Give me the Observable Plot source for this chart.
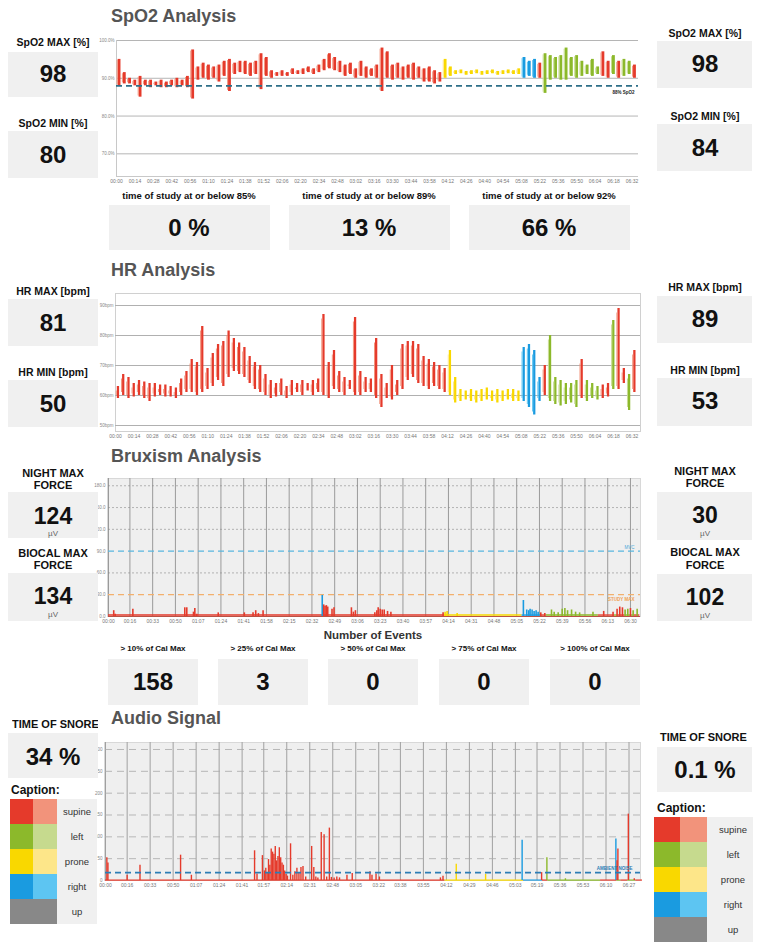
<!DOCTYPE html>
<html><head><meta charset="utf-8">
<script src="https://cdn.jsdelivr.net/npm/d3@7"></script>
<script src="https://cdn.jsdelivr.net/npm/@observablehq/plot@0.6"></script>
<style>
html,body{margin:0;padding:0;background:#fff;overflow:hidden}
#page{position:relative;width:762px;height:942px;overflow:hidden;font-family:"Liberation Sans",Arial,sans-serif}
.t{position:absolute;white-space:nowrap;transform:translate(-50%,-50%);font-weight:bold;color:#111;line-height:1}
.tl{position:absolute;white-space:nowrap;transform:translate(0,-50%);font-weight:bold;line-height:1}
.box{position:absolute;background:#f0f0f0}
.chart{position:absolute}
</style></head><body><div id="page"></div>
<script>
// ---------- positions / captions ----------
const posCodes = ["S","L","P","R","U"];
const posNames = ["supine","left","prone","right","up"];
const posDark  = ["#e53a2b","#8cb92b","#f9d800","#1a9be0","#888888"];
const posLight = ["#f2937b","#c6da8e","#fde689","#5dc5f2","#888888"];

// body-position timeline (minutes)
const timelineStart = [0, 251, 309, 323, 327, 366, 378, 381, 386, 392];
const timelineEnd   = [251, 309, 323, 327, 366, 378, 381, 386, 392, 397];
const timelinePos   = ["S","P","R","S","L","S","L","S","L","S"];

// ---------- SpO2 ----------
const spo2Step = 4;
const spo2Lo = [88.0,88.5,88.5,88.0,85.0,88.0,87.5,88.0,87.5,87.5,88.0,87.5,88.0,87.5,
  84.5,89.5,90.0,89.5,90.0,89.0,90.5,86.5,91.0,91.5,91.0,90.5,91.0,87.0,90.5,
  90.0,90.5,90.5,90.5,91.0,91.0,91.0,91.5,91.0,91.5,
  92.0,92.5,92.0,91.5,90.5,91.0,90.0,90.5,90.0,90.5,90.0,
  86.5,90.0,89.5,90.0,89.5,90.0,89.5,90.0,89.0,89.0,88.5,89.0,
  90.0,90.5,91.0,91.2,90.8,91.0,91.2,90.8,91.0,91.2,90.8,91.0,91.2,91.0,91.0,
  90.0,90.5,90.0,90.0,
  86.0,89.5,90.0,89.5,89.5,90.5,90.0,90.5,91.0,90.5,91.0,
  90.5,90.0,91.0,90.0,90.5,91.0,90.0];
const spo2Hi = [95.0,91.5,90.0,89.5,90.5,89.5,89.5,89.0,89.5,89.0,89.5,90.0,89.5,90.5,
  97.5,93.0,94.0,93.5,93.0,93.5,94.5,95.0,94.0,94.5,94.5,94.0,94.5,96.5,95.5,
  92.0,91.5,92.0,91.5,92.5,92.0,92.5,93.0,92.5,93.5,
  95.0,96.5,95.5,94.5,93.5,94.0,92.5,94.5,93.0,92.5,93.5,
  98.0,97.0,93.5,94.0,93.0,93.5,94.0,93.0,92.5,93.0,92.0,91.5,
  95.0,93.0,92.0,92.2,91.8,92.0,92.2,91.8,92.0,92.2,91.8,92.0,92.2,92.0,92.5,
  95.5,94.5,95.0,94.0,
  96.5,96.0,95.5,96.0,98.0,95.5,96.0,94.5,93.5,95.0,93.0,
  97.0,94.5,96.0,94.5,95.0,94.5,93.5];
const spo2Pos = "SSSSSSSSSSSSSSSSSSSSSSSSSSSSSSSSSSSSSSSSSSSSSSSSSSSSSSSSSSSSSS" +
  "PPPPPPPPPPPPPPP" + "RRR" + "S" + "LLLLLLLLLLL" + "SSLSLLS";
const spo2Threshold = 88;
const spo2ThresholdLabel = "88% SpO2";
const spo2YTicks = [100, 90, 80, 70];
const spo2XLabels = ["00:00","00:14","00:28","00:42","00:56","01:10","01:24","01:38","01:52","02:06","02:20","02:34","02:48","03:02","03:16","03:30","03:44","03:58","04:12","04:26","04:40","04:54","05:08","05:22","05:36","05:50","06:04","06:18","06:32"];
const spo2StatLabels = ["SpO2 MAX [%]", "SpO2 MIN [%]"];
const spo2LeftValues = ["98", "80"];
const spo2RightValues = ["98", "84"];
const desatLabels = ["time of study at or below 85%", "time of study at or below 89%", "time of study at or below 92%"];
const desatValues = ["0 %", "13 %", "66 %"];

// ---------- HR ----------
const hrStep = 4;
const hrLo = [59,60,59,59.5,60,59,58,59.5,60,59.5,59.5,59,
  60,61,61,60,61,62,63,65,63,66,68,67,66,64,62,61,
  60,59,59.5,60,59,60,61,60,61.5,60,61,
  60,59,62,61,60,62,60,60,61,61,59,56,59,58.5,60,
  62,65,66,64,63,62,63,62,61,
  60,57.5,58,58.5,58,57.5,58,58.5,58,57.5,58,58.5,58,58,
  58,56,53.5,58,60,
  58,57,56.5,57,57.5,56,
  59,58,59,58.5,59,59.5,62,62,64,55,61];
const hrHi = [63,67,66,64,65,64.5,64,64,63.5,63.5,63,62.5,
  65.5,68,72,71,83,69,74,77,78,81.5,79,77.5,76,73,71,70,
  67,65,64,65.5,63,65,64,65,64,65,65.5,
  87,71,75,68,66,65,86,68,66,65.5,79,67,64,70,65,
  77,78,78,77,73,72,71,70,69,
  75,66,62,61.5,62,61.5,62,62.5,61.5,62,61.5,62,62,61.5,
  76,77,75,66,70,
  80,66,65,64,64,65,
  72,65,64,63,63.5,64,85,89,69,67,75];
const hrPos = "SSSSSSSSSSSSSSSSSSSSSSSSSSSSSSSSSSSSSSSSSSSSSSSSSSSSSSSSSSSSSSS" +
  "PPPPPPPPPPPPPP" + "RRRR" + "S" + "LLLLLL" + "S" + "LLL" + "SS" + "L" + "S" + "S" + "L" + "S";
const hrYTicks = [90, 80, 70, 60, 50];
const hrXLabels = ["00:00","00:14","00:28","00:42","00:56","01:10","01:24","01:38","01:52","02:06","02:20","02:34","02:48","03:02","03:16","03:30","03:44","03:58","04:12","04:26","04:40","04:54","05:08","05:22","05:36","05:50","06:04","06:18","06:32"];
const hrStatLabels = ["HR MAX [bpm]", "HR MIN [bpm]"];
const hrLeftValues = ["81", "50"];
const hrRightValues = ["89", "53"];

// ---------- Bruxism ----------
const bruxT = [3.9,5,18.2,57,58.5,63.5,64.5,66,82,101.5,108,110,112,115.5,159.7,160.8,161.8,162.8,163.8,167,168.5,181.5,183,184.5,199,200.5,201.5,203,204.5,206,208.5,211,250,251.5,253,260.5,310,312.5,314,315,316.5,318,319.5,321,323,326,331,333,336,339,341,343,346,349,352,362,370,377,380,382,384,386,388,390,392,395];
const bruxV = [8,3,10,12,12,6,11,3,5,5,5,8,4,8,29,16,14,15,13,10,12,12,6,8,5,8,12,10,9,9,7,6,5,6,7,4,22,9,8,10,9,7,8,6,5,4,9,6,5,10,11,8,9,6,5,6,7,6,10,13,12,9,10,11,8,10];
const bruxPos = ["S","S","S","S","S","S","S","S","S","S","S","S","S","S","R","S","S","S","S","S","S","S","S","S","S","S","S","S","S","S","S","S","S","P","P","P","R","R","R","R","R","R","R","R","S","S","L","L","L","L","L","L","L","L","L","L","S","S","S","S","S","L","L","S","L","L"];
const bruxBaseline = 2;
const bruxMvc = 90, bruxMvcLabel = "MVC";
const bruxStudyMax = 30, bruxStudyMaxLabel = "STUDY MAX";
const bruxYTicks = [180, 150, 120, 90, 60, 30, 0];
const bruxXLabels = ["00:00","00:16","00:33","00:50","01:07","01:24","01:41","01:58","02:15","02:32","02:49","03:06","03:23","03:40","03:57","04:14","04:31","04:48","05:05","05:22","05:39","05:56","06:13","06:30"];
const bruxStatLabels = [["NIGHT MAX","FORCE"],["BIOCAL MAX","FORCE"]];
const bruxLeftValues = ["124", "134"];
const bruxRightValues = ["30", "102"];
const bruxUnit = "µV";
const eventsTitle = "Number of Events";
const eventLabels = ["> 10% of Cal Max", "> 25% of Cal Max", "> 50% of Cal Max", "> 75% of Cal Max", "> 100% of Cal Max"];
const eventValues = ["158", "3", "0", "0", "0"];

// ---------- Audio ----------
const audioT = [1,1.8,16,25.5,55.5,63.5,110.2,112,116,117.5,118.5,119.5,120.5,121.5,122.5,123.5,124.5,125.5,126.5,127.5,128.5,129.5,130.5,131.5,132.5,133.5,134.5,136.8,138.5,140,141.5,143,144.5,146,148,152.4,154,155.5,157,159.5,161.6,163.5,165.5,167,169,171,173,178.5,182.4,195.5,197,200,202.5,247.6,249.5,259.3,281,308,322.4,326.3,340,377.3,378.2,378.8,386.5,390.9];
const audioV = [52,40,12,35,58,12,68,15,57,22,28,18,48,35,72,65,60,78,45,55,75,52,40,35,22,14,10,84,12,20,28,18,30,32,8,78,30,8,6,110,105,8,120,7,6,8,6,12,16,20,12,15,8,6,10,37,14,92,18,52,4,95,45,72,152,4];
const audioPos = ["S","S","S","S","S","S","S","S","S","S","S","S","S","S","S","S","S","S","S","S","S","S","S","S","S","S","S","S","S","S","S","S","S","S","S","S","S","S","S","S","S","S","S","S","S","S","S","S","S","S","S","S","S","S","S","P","P","R","S","L","L","R","S","S","S","S"];
const audioBaseline = 1;
const ambientNoise = 18, ambientLabel = "AMBIENT NOISE";
const audioYTicks = [300, 250, 200, 150, 100, 50, 0];
const audioXLabels = ["00:00","00:16","00:33","00:50","01:07","01:24","01:41","01:57","02:14","02:31","02:48","03:05","03:22","03:38","03:55","04:12","04:29","04:46","05:03","05:19","05:36","05:53","06:10","06:27"];
const snoreLabel = "TIME OF SNORE";
const snoreLeftValue = "34 %";
const snoreRightValue = "0.1 %";
const captionTitle = "Caption:";

// ---------- titles ----------
const sectionTitles = ["SpO2 Analysis", "HR Analysis", "Bruxism Analysis", "Audio Signal"];

// ================= helpers =================
const page = document.getElementById("page");
function el(cls, x, y, s, st) {
  const d = document.createElement("div");
  d.className = cls; d.textContent = s;
  d.style.left = x + "px"; d.style.top = y + "px";
  Object.assign(d.style, st || {});
  page.appendChild(d); return d;
}
function box(x, y, w, h, bg) {
  const d = document.createElement("div");
  d.className = "box";
  Object.assign(d.style, {left: x + "px", top: y + "px", width: w + "px", height: h + "px"});
  if (bg) d.style.background = bg;
  page.appendChild(d); return d;
}
const colorOf = c => posDark[posCodes.indexOf(c)];
const lightOf = c => posLight[posCodes.indexOf(c)];
const hm = s => { const [h, m] = s.split(":").map(Number); return h * 60 + m; };
function timeTicks(labels) {
  const v = labels.map(hm);
  const m = new Map(v.map((d, i) => [d, labels[i]]));
  return {ticks: v, fmt: d => m.get(d)};
}
function place(svg, x, y) {
  const w = document.createElement("div");
  w.className = "chart"; w.style.left = x + "px"; w.style.top = y + "px";
  w.appendChild(svg); page.appendChild(w);
}
const timeline = timelineStart.map((s, i) => ({s, e: timelineEnd[i], p: timelinePos[i]}));
const baseStyle = {background: "transparent", fontFamily: "Liberation Sans, Arial, sans-serif", color: "#777", overflow: "visible"};

// ================= titles =================
const titleY = [16, 270, 456, 718];
sectionTitles.forEach((t, i) => el("tl", 111, titleY[i], t, {fontSize: "18px", color: "#555"}));

// ================= SpO2 chart =================
{
  const tt = timeTicks(spo2XLabels);
  const data = spo2Lo.map((lo, i) => ({t: i * spo2Step, lo, hi: spo2Hi[i], p: spo2Pos[i]}));
  const svg = Plot.plot({
    width: 548, height: 155, marginLeft: 20, marginRight: 6, marginTop: 8, marginBottom: 11,
    style: baseStyle,
    x: {domain: [0, 397], label: null}, y: {domain: [64, 100], label: null}, color: {type: "identity"},
    marks: [
      Plot.ruleY(spo2YTicks, {stroke: "#b5b5b5", strokeWidth: 1}),
      Plot.ruleX([0], {stroke: "#c8c8c8"}),
      Plot.ruleY([64], {stroke: "#c8c8c8"}),
      Plot.rect(data, {x1: "t", x2: d => d.t + spo2Step, y1: "lo", y2: "hi", fill: d => colorOf(d.p), insetLeft: 1.6, insetRight: 0.8}),
      Plot.ruleX(data, {x: d => d.t + 0.5, y1: d => d.lo + 0.3, y2: d => d.hi - 0.3, stroke: d => lightOf(d.p), strokeWidth: 1}),
      Plot.ruleY([spo2Threshold], {stroke: "#2e6f88", strokeWidth: 1.6, strokeDasharray: "6,4"}),
      Plot.text([spo2Threshold], {y: d => d, frameAnchor: "right", textAnchor: "end", dx: -4, dy: 7, text: () => spo2ThresholdLabel, fontSize: 4.5, fontWeight: "bold", fill: "#222"}),
      Plot.axisX(tt.ticks, {tickFormat: tt.fmt, tickSize: 0, tickPadding: 3, fontSize: 5, fill: "#777", label: null}),
      Plot.axisY(spo2YTicks, {tickFormat: d => d.toFixed(1) + "%", tickSize: 0, tickPadding: 2, fontSize: 4.5, fill: "#888", label: null})
    ]
  });
  place(svg, 96, 32);
}
// SpO2 panels
el("t", 53, 42, spo2StatLabels[0], {fontSize: "10.5px"});
box(8, 52, 90, 45); el("t", 53, 74, spo2LeftValues[0], {fontSize: "24px"});
el("t", 53, 123, spo2StatLabels[1], {fontSize: "10.5px"});
box(8, 131, 90, 47); el("t", 53, 155, spo2LeftValues[1], {fontSize: "24px"});
el("t", 705, 33, spo2StatLabels[0], {fontSize: "10.5px"});
box(657, 41, 95, 47); el("t", 705, 64, spo2RightValues[0], {fontSize: "24px"});
el("t", 705, 116, spo2StatLabels[1], {fontSize: "10.5px"});
box(657, 124, 95, 47); el("t", 705, 148, spo2RightValues[1], {fontSize: "24px"});
[109, 289, 469].forEach((x, i) => {
  el("t", x + 80, 196, desatLabels[i], {fontSize: "9.5px"});
  box(x, 205, 161, 45);
  el("t", x + 80, 228, desatValues[i], {fontSize: "24px"});
});

// ================= HR chart =================
{
  const tt = timeTicks(hrXLabels);
  const data = hrLo.map((lo, i) => ({t: i * hrStep, lo, hi: hrHi[i], p: hrPos[i]}));
  const svg = Plot.plot({
    width: 548, height: 152, marginLeft: 19, marginRight: 4, marginTop: 5, marginBottom: 9,
    style: baseStyle,
    x: {domain: [0, 398.5], label: null}, y: {domain: [48, 94], label: null}, color: {type: "identity"},
    marks: [
      Plot.frame({stroke: "#d0d0d0"}),
      Plot.ruleY(hrYTicks, {stroke: "#b0b0b0", strokeWidth: 1}),
      Plot.rect(data, {x1: "t", x2: d => d.t + hrStep, y1: "lo", y2: "hi", fill: d => colorOf(d.p), insetLeft: 1.8, insetRight: 1.2}),
      Plot.ruleX(data, {x: d => d.t + 0.6, y1: d => d.lo + 1, y2: d => d.hi - 1.5, stroke: d => lightOf(d.p), strokeWidth: 1}),
      Plot.axisX(tt.ticks, {tickFormat: tt.fmt, tickSize: 0, tickPadding: 3, fontSize: 5, fill: "#777", label: null}),
      Plot.axisY(hrYTicks, {tickFormat: d => d + "bpm", tickSize: 0, tickPadding: 2, fontSize: 4.5, fill: "#888", label: null})
    ]
  });
  place(svg, 96, 288);
}
el("t", 53, 291, hrStatLabels[0], {fontSize: "10.5px"});
box(8, 299, 90, 47); el("t", 53, 323, hrLeftValues[0], {fontSize: "24px"});
el("t", 53, 372, hrStatLabels[1], {fontSize: "10.5px"});
box(8, 380, 90, 47); el("t", 53, 404, hrLeftValues[1], {fontSize: "24px"});
el("t", 705, 287, hrStatLabels[0], {fontSize: "10.5px"});
box(657, 296, 95, 47); el("t", 705, 319, hrRightValues[0], {fontSize: "24px"});
el("t", 705, 370, hrStatLabels[1], {fontSize: "10.5px"});
box(657, 378, 95, 48); el("t", 705, 401, hrRightValues[1], {fontSize: "24px"});

// ================= Bruxism chart =================
{
  const tt = timeTicks(bruxXLabels);
  const data = bruxT.map((t, i) => ({t, v: bruxV[i], p: bruxPos[i]}));
  const svg = Plot.plot({
    width: 553, height: 158, marginLeft: 16, marginRight: 5, marginTop: 4, marginBottom: 16,
    style: baseStyle,
    x: {domain: [0, 397.5], label: null}, y: {domain: [0, 190], label: null}, color: {type: "identity"},
    marks: [
      Plot.frame({fill: "#efefef", stroke: "#d8d8d8", insetLeft: -1}),
      Plot.ruleX(tt.ticks, {stroke: "#9a9a9a", strokeWidth: 1}),
      Plot.ruleY(bruxYTicks.filter(d => d !== bruxMvc && d !== bruxStudyMax && d !== 0), {stroke: "#8a8a8a", strokeWidth: 0.6, strokeDasharray: "2,2"}),
      Plot.ruleY([bruxMvc], {stroke: "#5ab7df", strokeWidth: 1.3, strokeDasharray: "6,4"}),
      Plot.ruleY([bruxStudyMax], {stroke: "#f3b06d", strokeWidth: 1.3, strokeDasharray: "6,4"}),
      Plot.text([bruxMvc], {y: d => d, frameAnchor: "right", textAnchor: "end", dx: -6, dy: -4, text: () => bruxMvcLabel, fontSize: 4.5, fill: "#4aa8d8"}),
      Plot.text([bruxStudyMax], {y: d => d, frameAnchor: "right", textAnchor: "end", dx: -6, dy: 5, text: () => bruxStudyMaxLabel, fontSize: 4.5, fill: "#f0a050", fontWeight: "bold"}),
      Plot.ruleY(timeline, {y: () => bruxBaseline, x1: "s", x2: "e", stroke: d => colorOf(d.p), strokeWidth: 1.4}),
      Plot.ruleX(data, {x: "t", y1: 0, y2: "v", stroke: d => colorOf(d.p), strokeWidth: 1.6}),
      Plot.ruleY([0], {stroke: "#b03020", strokeWidth: 0.8}),
      Plot.axisX(tt.ticks, {tickFormat: tt.fmt, tickSize: 0, tickPadding: 3, fontSize: 5, fill: "#777", label: null}),
      Plot.axisY(bruxYTicks, {tickFormat: d => d.toFixed(1), tickSize: 0, tickPadding: 3, fontSize: 4.5, fill: "#888", label: null})
    ]
  });
  place(svg, 92, 474);
}
el("t", 53, 473, bruxStatLabels[0][0], {fontSize: "11px"});
el("t", 53, 485, bruxStatLabels[0][1], {fontSize: "11px"});
box(8, 492, 90, 46); el("t", 53, 516, bruxLeftValues[0], {fontSize: "23px"});
el("t", 53, 534, bruxUnit, {fontSize: "8px", fontWeight: "normal", color: "#666"});
el("t", 53, 553, bruxStatLabels[1][0], {fontSize: "11px"});
el("t", 53, 565, bruxStatLabels[1][1], {fontSize: "11px"});
box(8, 573, 90, 48); el("t", 53, 596, bruxLeftValues[1], {fontSize: "23px"});
el("t", 53, 615, bruxUnit, {fontSize: "8px", fontWeight: "normal", color: "#666"});
el("t", 705, 471, bruxStatLabels[0][0], {fontSize: "11px"});
el("t", 705, 483, bruxStatLabels[0][1], {fontSize: "11px"});
box(657, 492, 95, 48); el("t", 705, 515, bruxRightValues[0], {fontSize: "23px"});
el("t", 705, 534, bruxUnit, {fontSize: "8px", fontWeight: "normal", color: "#666"});
el("t", 705, 552, bruxStatLabels[1][0], {fontSize: "11px"});
el("t", 705, 565, bruxStatLabels[1][1], {fontSize: "11px"});
box(657, 574, 95, 47); el("t", 705, 597, bruxRightValues[1], {fontSize: "23px"});
el("t", 705, 616, bruxUnit, {fontSize: "8px", fontWeight: "normal", color: "#666"});
el("t", 373, 636, eventsTitle, {fontSize: "11.5px", color: "#333"});
[108, 218, 328, 439, 550].forEach((x, i) => {
  el("t", x + 45, 649, eventLabels[i], {fontSize: "8px"});
  box(x, 659, 90, 46);
  el("t", x + 45, 682, eventValues[i], {fontSize: "24px"});
});

// ================= Audio chart =================
{
  const tt = timeTicks(audioXLabels);
  const data = audioT.map((t, i) => ({t, v: audioV[i], p: audioPos[i]}));
  const svg = Plot.plot({
    width: 556, height: 156, marginLeft: 16, marginRight: 5, marginTop: 4, marginBottom: 14,
    style: baseStyle,
    x: {domain: [0, 395.5], label: null}, y: {domain: [0, 316], label: null}, color: {type: "identity"},
    marks: [
      Plot.frame({fill: "#efefef", stroke: "#d8d8d8", insetLeft: -1}),
      Plot.ruleX(tt.ticks, {stroke: "#a0a0a0", strokeWidth: 1}),
      Plot.ruleY(audioYTicks.filter(d => d > 0), {stroke: "#a8a8a8", strokeWidth: 0.8, strokeDasharray: "7,5"}),
      Plot.ruleY(timeline, {y: () => audioBaseline, x1: "s", x2: "e", stroke: d => colorOf(d.p), strokeWidth: 1.2}),
      Plot.ruleX(data, {x: "t", y1: 0, y2: "v", stroke: d => colorOf(d.p), strokeWidth: 1.4}),
      Plot.ruleY([ambientNoise], {stroke: "#2c7db5", strokeWidth: 1.6, strokeDasharray: "6,4"}),
      Plot.text([ambientNoise], {y: d => d, frameAnchor: "right", textAnchor: "end", dx: -8, dy: -4, text: () => ambientLabel, fontSize: 4.5, fontWeight: "bold", fill: "#2c7db5"}),
      Plot.axisX(tt.ticks, {tickFormat: tt.fmt, tickSize: 0, tickPadding: 3, fontSize: 5, fill: "#777", label: null}),
      Plot.axisY(audioYTicks, {tickSize: 0, tickPadding: 3, fontSize: 4.5, fill: "#888", label: null})
    ]
  });
  place(svg, 89, 738);
}
// snore panels + captions
{
  el("tl", 12, 724, snoreLabel, {fontSize: "11px", color: "#111", width: "86px", overflow: "hidden"});
  box(8, 733, 90, 45); el("t", 53, 757, snoreLeftValue, {fontSize: "24px"});
  el("tl", 660, 737, snoreLabel, {fontSize: "11px", color: "#111"});
  box(657, 747, 95, 45); el("t", 705, 770, snoreRightValue, {fontSize: "24px"});
  el("tl", 11, 790, captionTitle, {fontSize: "12px", color: "#111"});
  el("tl", 657, 808, captionTitle, {fontSize: "12px", color: "#111"});
  posNames.forEach((n, i) => {
    const y1 = 799 + i * 25;
    box(10, y1, 23, 25, posDark[i]); box(33, y1, 24, 25, posLight[i]); box(57, y1, 40, 25, "#f0f0f0");
    el("t", 77, y1 + 13, n, {fontSize: "9.5px", fontWeight: "normal", color: "#333"});
    const y2 = 817 + i * 25;
    box(654, y2, 26, 25, posDark[i]); box(680, y2, 27, 25, posLight[i]); box(707, y2, 46, 25, "#f0f0f0");
    el("t", 733, y2 + 13, n, {fontSize: "9.5px", fontWeight: "normal", color: "#333"});
  });
}
</script></body></html>
